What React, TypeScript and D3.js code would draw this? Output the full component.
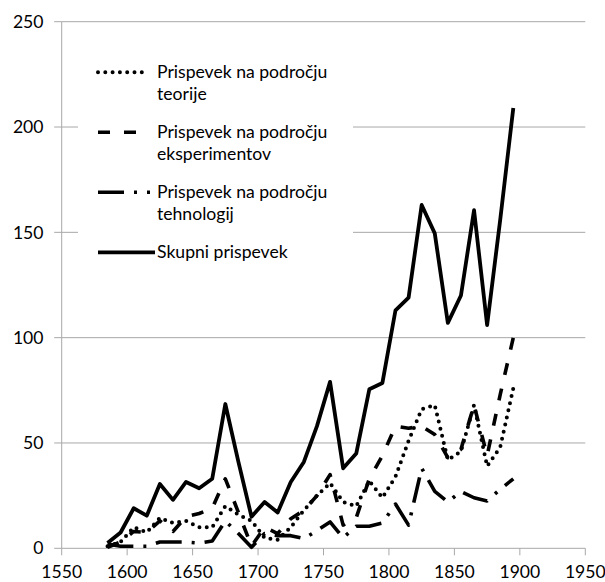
import React from "react";
import * as d3 from "d3";

const years = [1585, 1595, 1605, 1615, 1625, 1635, 1645, 1655, 1665, 1675, 1685, 1695, 1705, 1715, 1725, 1735, 1745, 1755, 1765, 1775, 1785, 1795, 1805, 1815, 1825, 1835, 1845, 1855, 1865, 1875, 1885, 1895];

const teorija = [1, 3, 10, 7.5, 14.5, 12, 13, 10, 10, 20, 16, 13, 5, 4, 10, 18, 25, 31, 22, 20, 32, 24, 34, 51, 66, 68, 42, 46, 68, 39, 48, 76];
const eksperimenti = [0.5, 3, 8, 7.5, 13, 8, 15, 16.5, 19, 33, 17, 1, 10, 7, 14, 18, 25, 35, 11, 14.5, 33, 44, 58, 57, 58, 54, 43, 47, 68, 44, 73, 100];
const tehnologija = [2, 1, 1, 1, 3, 3, 3, 2.5, 3.5, 13, 7, 0.5, 7, 6, 6, 4.6, 8.4, 12.5, 5, 10.5, 10.5, 12, 21, 11, 38, 27, 22, 27, 24, 22.5, 28, 33];
const skupno = [2.5, 7.5, 19, 15.5, 30.5, 23, 31.5, 28.5, 33, 68.5, 41, 15, 22, 17, 31.5, 41, 58, 79, 38, 45, 75.5, 78.5, 113, 119, 163, 149.5, 107, 120, 160.5, 106, 156, 209];

const xTicks = [1550, 1600, 1650, 1700, 1750, 1800, 1850, 1900, 1950];
const yTicks = [0, 50, 100, 150, 200, 250];

const legendLabels = [
  ["Prispevek na področju", "teorije"],
  ["Prispevek na področju", "eksperimentov"],
  ["Prispevek na področju", "tehnologij"],
  ["Skupni prispevek"],
];

const W = 605;
const H = 582;
const FONT = "Lato, 'Open Sans', sans-serif";
const FS = 17.6;
const GRID = "#a8a8a8";

const styles = [
  { dash: "0,7.3", cap: "round" as const, width: 4 },
  { dash: "12,14", cap: "butt" as const, width: 3.6 },
  { dash: "26,10,3,10", cap: "butt" as const, width: 3.6 },
  { dash: undefined, cap: "butt" as const, width: 3.8 },
];

export default function App() {
  const x = d3.scaleLinear().domain([1550, 1950]).range([61.7, 585.3]);
  const y = d3.scaleLinear().domain([0, 250]).range([548.3, 21.7]);
  const series = [teorija, eksperimenti, tehnologija, skupno];
  const line = d3
    .line<number>()
    .x((_, i) => x(years[i]))
    .y((d) => y(d));

  const legendRowY = [78.3, 138.3, 198.3, 258.3];

  return (
    <svg
      width={W}
      height={H}
      style={{ position: "absolute", left: 0, top: 0, background: "#fff" }}
      fontFamily={FONT}
    >
      <rect x={0} y={0} width={W} height={H} fill="#fff" />
      {yTicks
        .filter((t) => t > 0)
        .map((t) => (
          <line key={t} x1={x(1550)} x2={x(1950)} y1={y(t)} y2={y(t)} stroke={GRID} strokeWidth={1} />
        ))}
      <rect x={78} y={48} width={275} height={225} fill="#fff" />
      <line x1={x(1550)} x2={x(1550)} y1={y(0)} y2={y(250)} stroke={GRID} strokeWidth={1} />
      <line x1={x(1550)} x2={x(1950)} y1={y(0)} y2={y(0)} stroke={GRID} strokeWidth={1} />
      {yTicks.map((t) => (
        <g key={"yt" + t}>
          <line x1={x(1550) - 7.5} x2={x(1550)} y1={y(t)} y2={y(t)} stroke={GRID} strokeWidth={1} />
          <text x={43.5} y={y(t)} dy="0.35em" textAnchor="end" fontSize={FS} fill="#000">
            {t}
          </text>
        </g>
      ))}
      {xTicks.map((t) => (
        <g key={"xt" + t}>
          <line x1={x(t)} x2={x(t)} y1={y(0)} y2={y(0) + 7} stroke={GRID} strokeWidth={1} />
          <text x={x(t)} y={578} textAnchor="middle" fontSize={FS} fill="#000">
            {t}
          </text>
        </g>
      ))}
      {series.map((s, i) => (
        <path
          key={"s" + i}
          d={line(s) || ""}
          fill="none"
          stroke="#000"
          strokeWidth={styles[i].width}
          strokeDasharray={styles[i].dash}
          strokeLinecap={styles[i].cap}
          strokeLinejoin="round"
        />
      ))}
      {legendLabels.map((lines, i) => (
        <g key={"lg" + i}>
          <line
            x1={98}
            x2={i === 3 ? 155 : i === 0 ? 146 : 150}
            y1={legendRowY[i] - 6}
            y2={legendRowY[i] - 6}
            stroke="#000"
            strokeWidth={styles[i].width}
            strokeDasharray={styles[i].dash}
            strokeLinecap={styles[i].cap}
          />
          {lines.map((t, j) => (
            <text key={j} x={157} y={legendRowY[i] + j * 21.7} fontSize={FS} fill="#000">
              {t}
            </text>
          ))}
        </g>
      ))}
    </svg>
  );
}
